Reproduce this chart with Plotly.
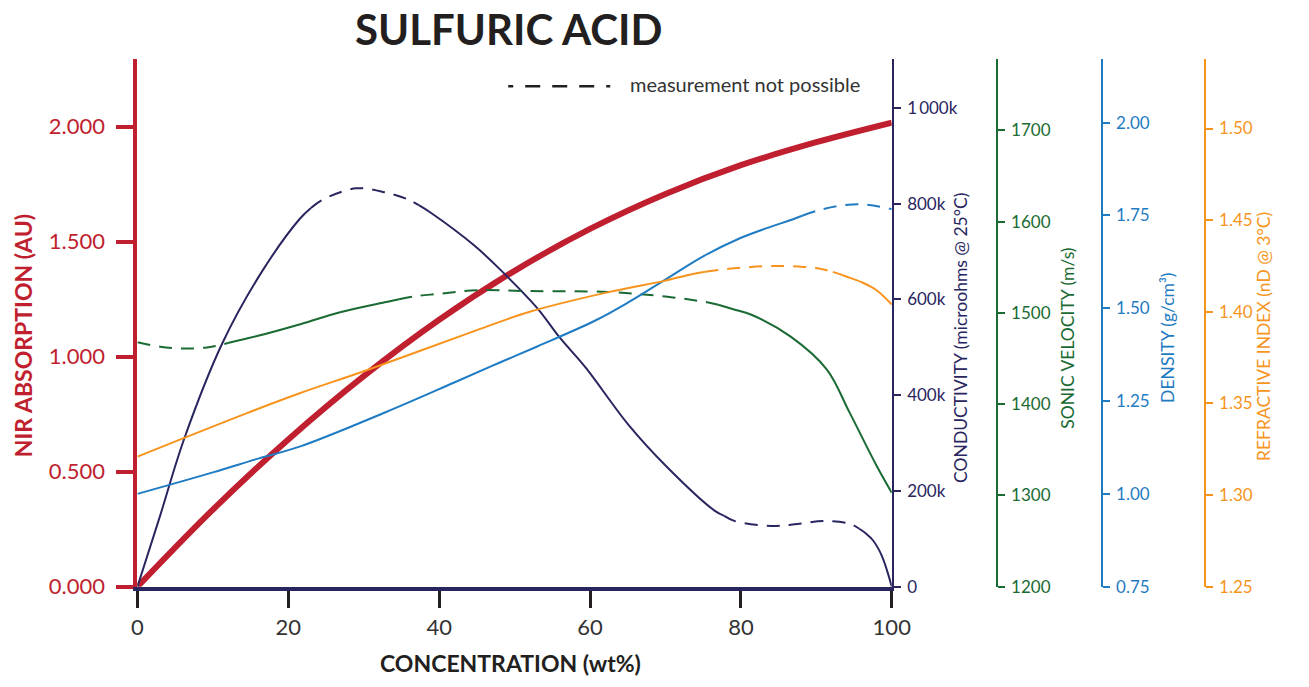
import plotly.graph_objects as go

# ---------------- data ----------------
conc_nir = [0, 10, 20, 30, 40, 50, 60, 70, 80, 90, 100]
nir = [0.0, 0.335, 0.64, 0.915, 1.16, 1.373, 1.555, 1.707, 1.832, 1.932, 2.017]

conc_cond = [0, 3, 6.2, 11.3, 16.5, 21.5, 23, 24.5, 29, 33, 36, 37.3, 38.8, 44.7, 48.5,
             53, 56, 59.4, 65.1, 70.2, 76.5, 77.8, 79.2, 84, 87.5, 90.9, 94, 94.8,
             95.7, 96.5, 97.5, 98.7, 100]
cond_k = [0, 148, 309, 510, 658, 768, 791, 808, 832, 823, 808, 797, 782, 712, 656,
          582, 520, 458, 338, 250, 159, 148, 137, 127, 131, 137, 133, 129,
          121, 112, 97, 64, 0]
cond_dashed = [(23, 37.3), (77.8, 95.7)]

conc_sonic = [0, 3, 6, 9, 10.5, 12, 13.5, 16, 21.7, 27, 33, 34.7, 36.5, 40, 45, 52,
              62.3, 70, 75.3, 77, 79, 81.4, 86.6, 91.4, 94.4, 97.9, 100]
sonic = [1468, 1463, 1461, 1462, 1464, 1467, 1470, 1475, 1488, 1501, 1512, 1515, 1518,
         1521, 1525, 1524, 1523, 1518, 1512, 1509, 1504, 1498, 1474, 1438, 1391, 1334, 1303]
sonic_dashed = [(0, 12), (34.7, 77)]

conc_dens = [0, 10, 16, 21.6, 32.9, 42, 47.9, 53, 60.7, 65, 70.2, 75, 79.8, 84, 86.5,
             88.2, 90, 92.7, 96.1, 100]
dens = [1.000, 1.058, 1.095, 1.128, 1.22, 1.30, 1.3525, 1.397, 1.467, 1.515, 1.58,
        1.64, 1.688, 1.72, 1.737, 1.75, 1.762, 1.775, 1.78, 1.767]
dens_dashed = [(88.2, 100)]

conc_ri = [0, 14.7, 21.6, 30.3, 45, 52, 62.3, 70, 73.5, 75.3, 77, 80, 84, 88.3, 90.5,
           92.2, 93.8, 96.1, 97.9, 100]
ri = [1.321, 1.345, 1.3557, 1.368, 1.390, 1.40, 1.4106, 1.417, 1.4205, 1.4218, 1.4228,
      1.424, 1.425, 1.4245, 1.4235, 1.4218, 1.4195, 1.416, 1.412, 1.404]
ri_dashed = [(75.3, 92.2)]

x_ticks = [0, 20, 40, 60, 80, 100]
nir_ticks = [0, 0.5, 1.0, 1.5, 2.0]
cond_ticks = [0, 200000, 400000, 600000, 800000, 1000000]
cond_ticktext = ["0", "200k", "400k", "600k", "800k", "1\u2009000k"]
sonic_ticks = [1200, 1300, 1400, 1500, 1600, 1700]
dens_ticks = [0.75, 1.00, 1.25, 1.50, 1.75, 2.00]
ri_ticks = [1.25, 1.30, 1.35, 1.40, 1.45, 1.50]

# ---------------- style ----------------
RED = "#c01f2f"
NAVY = "#29265f"
GREEN = "#1a6a33"
BLUE = "#1f7bc2"
ORANGE = "#f7941d"
DARK = "#231f20"
FONT = "Lato"
W, H = 1309, 687
X0, X1 = 134, 903
YT, YB = 60, 598
DASH = "13px,9px"


def px_x(p):
    return p / W


def px_y(p):
    return 1 - p / H


def segments(xs, ys, dashed):
    """Split a series into consecutive solid / dashed pieces."""
    bounds = sorted({xs[0], xs[-1]} | {b for d in dashed for b in d})
    out = []
    for a, b in zip(bounds[:-1], bounds[1:]):
        is_dash = any(abs(a - d[0]) < 1e-9 and abs(b - d[1]) < 1e-9 for d in dashed)
        sx = [x for x in xs if a - 1e-9 <= x <= b + 1e-9]
        sy = [y for x, y in zip(xs, ys) if a - 1e-9 <= x <= b + 1e-9]
        out.append((sx, sy, is_dash))
    return out


fig = go.Figure()


def add_series(xs, ys, dashed, color, yaxis, width=2):
    for sx, sy, d in segments(xs, ys, dashed):
        fig.add_trace(go.Scatter(
            x=sx, y=sy, mode="lines", yaxis=yaxis, showlegend=False,
            hoverinfo="skip", cliponaxis=False,
            line=dict(color=color, width=width, shape="spline", smoothing=1.0,
                      dash=DASH if d else "solid")))


add_series(conc_ri, ri, ri_dashed, ORANGE, "y5")
add_series(conc_dens, dens, dens_dashed, BLUE, "y4")
add_series(conc_sonic, sonic, sonic_dashed, GREEN, "y3")
add_series(conc_cond, [v * 1000 for v in cond_k], cond_dashed, NAVY, "y2")
add_series(conc_nir, nir, [], RED, "y", width=6)

ydom = [px_y(YB), px_y(YT)]
right_common = dict(ticks="outside", ticklen=7, tickwidth=2, showline=True,
                    linewidth=2, showgrid=False, zeroline=False,
                    side="right", overlaying="y", ticklabelstandoff=3)

fig.update_layout(
    autosize=True,
    margin=dict(l=0, r=0, t=0, b=0, pad=0),
    paper_bgcolor="white", plot_bgcolor="white",
    font=dict(family=FONT, color=DARK),
    xaxis=dict(domain=[px_x(X0), px_x(X1)], range=[0, 100], tickvals=x_ticks,
               ticks="outside", ticklen=17, tickwidth=3, tickcolor=DARK,
               showline=True, linecolor=NAVY, linewidth=4, showgrid=False,
               zeroline=False, tickfont=dict(size=22, color="#333333"),
               ticklabelstandoff=1),
    yaxis=dict(domain=ydom, range=[0, (YB - YT) / 234.5], tickvals=nir_ticks,
               tickformat=".3f", ticks="outside", ticklen=17, tickwidth=4,
               tickcolor=RED, showline=True, linecolor=RED, linewidth=4,
               showgrid=False, zeroline=False,
               tickfont=dict(size=22, color=RED), ticklabelstandoff=7),
    yaxis2=dict(right_common, anchor="x", range=[0, (YB - YT) / 0.488 * 1000],
                tickvals=cond_ticks, ticktext=cond_ticktext, linecolor=NAVY,
                tickcolor=NAVY, tickfont=dict(size=17, color=NAVY)),
    yaxis3=dict(right_common, anchor="free", position=px_x(1010),
                range=[1200, 1200 + (YB - YT) / 0.93], tickvals=sonic_ticks,
                linecolor=GREEN, tickcolor=GREEN, tickfont=dict(size=17, color=GREEN)),
    yaxis4=dict(right_common, anchor="free", position=px_x(1117),
                range=[0.75, 0.75 + (YB - YT) / 378.4], tickvals=dens_ticks,
                tickformat=".2f", linecolor=BLUE, tickcolor=BLUE,
                tickfont=dict(size=17, color=BLUE)),
    yaxis5=dict(right_common, anchor="free", position=px_x(1222),
                range=[1.25, 1.25 + (YB - YT) / 1868], tickvals=ri_ticks,
                tickformat=".2f", linecolor=ORANGE, tickcolor=ORANGE,
                tickfont=dict(size=17, color=ORANGE)),
)

annotations = [
    dict(text="<b>SULFURIC ACID</b>", x=px_x(512), y=px_y(30), font=dict(size=42, color=DARK)),
    dict(text="<b>CONCENTRATION (wt%)</b>", x=px_x(514), y=px_y(676), font=dict(size=23, color=DARK)),
    dict(text="<b>NIR ABSORPTION (AU)</b>", x=px_x(17), y=px_y(342), textangle=-90,
         font=dict(size=23, color=RED)),
    dict(text="CONDUCTIVITY (microohms @ 25°C)", x=px_x(973), y=px_y(344), textangle=-90,
         font=dict(size=17.5, color=NAVY)),
    dict(text="SONIC VELOCITY (m/s)", x=px_x(1082), y=px_y(345), textangle=-90,
         font=dict(size=17.5, color=GREEN)),
    dict(text="DENSITY (g/cm³)", x=px_x(1184), y=px_y(344), textangle=-90,
         font=dict(size=17.5, color=BLUE)),
    dict(text="REFRACTIVE INDEX (nD @ 3°C)", x=px_x(1282), y=px_y(343), textangle=-90,
         font=dict(size=17.5, color=ORANGE)),
    dict(text="measurement not possible", x=px_x(634), y=px_y(86), xanchor="left",
         font=dict(size=20, color="#333333")),
]
for a in annotations:
    a.setdefault("xanchor", "center")
    a.update(xref="paper", yref="paper", yanchor="middle", showarrow=False)
fig.update_layout(annotations=annotations)

fig.add_shape(type="line", xref="paper", yref="paper", x0=px_x(512), x1=px_x(616),
              y0=px_y(88), y1=px_y(88),
              line=dict(color=DARK, width=2.5, dash="5px,12px,15px,12px,15px,12px,15px,12px"))

fig.write_html(
    "out.html",
    config={"displayModeBar": False, "responsive": True},
    default_width="100vw", default_height="100vh",
    post_script="document.documentElement.style.overflow='hidden';"
                "document.body.style.margin='0px';document.body.style.overflow='hidden';"
                "window.dispatchEvent(new Event('resize'));",
)
